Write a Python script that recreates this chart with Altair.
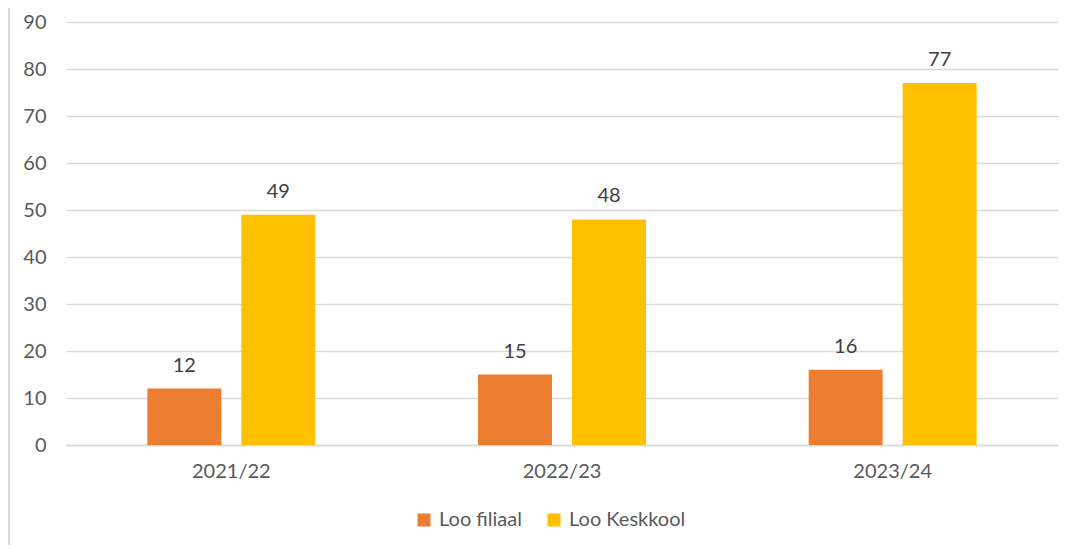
import altair as alt
import pandas as pd

years = ["2021/22", "2022/23", "2023/24"]
series = ["Loo filiaal", "Loo Keskkool"]
filiaal = [12, 15, 16]
keskkool = [49, 48, 77]
colors = ["#ED7D31", "#FFC000"]

rows = []
for i, y in enumerate(years):
    rows.append({"year": y, "series": series[0], "value": filiaal[i]})
    rows.append({"year": y, "series": series[1], "value": keskkool[i]})
df = pd.DataFrame(rows)

FONT = "Lato"
FS = 20

x = alt.X("year:N", sort=years, title=None,
          scale=alt.Scale(paddingInner=0.492, paddingOuter=0.246),
          axis=alt.Axis(labelAngle=0, labelFontSize=FS, labelColor="#595959", labelFont=FONT,
                        labelPadding=16, ticks=False, domainColor="#D9D9D9", domainWidth=1.5,
                        grid=False))
xo = alt.XOffset("series:N", sort=series, scale=alt.Scale(paddingInner=0.213, paddingOuter=0))
y = alt.Y("value:Q", title=None,
          scale=alt.Scale(domain=[0, 90], nice=False),
          axis=alt.Axis(values=list(range(0, 100, 10)), labelFontSize=FS, labelColor="#595959",
                        labelFont=FONT, labelPadding=20, ticks=False, domain=False,
                        gridColor="#D9D9D9", gridWidth=1.5))
color = alt.Color("series:N", sort=series, scale=alt.Scale(domain=series, range=colors),
                  legend=alt.Legend(title=None, orient="none", direction="horizontal",
                                    legendX=348, legendY=488, symbolType="square", symbolSize=170,
                                    symbolStrokeWidth=0, labelFontSize=FS, labelFont=FONT,
                                    labelColor="#595959", columnPadding=22, labelOffset=5))

base = alt.Chart(df)
bars = base.mark_bar().encode(x=x, xOffset=xo, y=y, color=color)
labels = base.mark_text(dy=-17, baseline="alphabetic", fontSize=FS, font=FONT, color="#404040").encode(
    x=alt.X("year:N", sort=years), xOffset=alt.XOffset("series:N", sort=series), y="value:Q",
    text="value:Q")
border = alt.Chart(pd.DataFrame({"a": [0]})).mark_rule(color="#D9D9D9", strokeWidth=2).encode(
    x=alt.value(-57), y=alt.value(-20), y2=alt.value(600))

chart = alt.layer(bars, labels, border).properties(
    width=992, height=423, autosize=alt.AutoSizeParams(type="none"),
    padding={"left": 58, "top": 14, "right": 5, "bottom": 100},
    background="white"
).configure_view(stroke=None)

chart.save("out.html", embed_options={"renderer": "svg", "actions": False})
